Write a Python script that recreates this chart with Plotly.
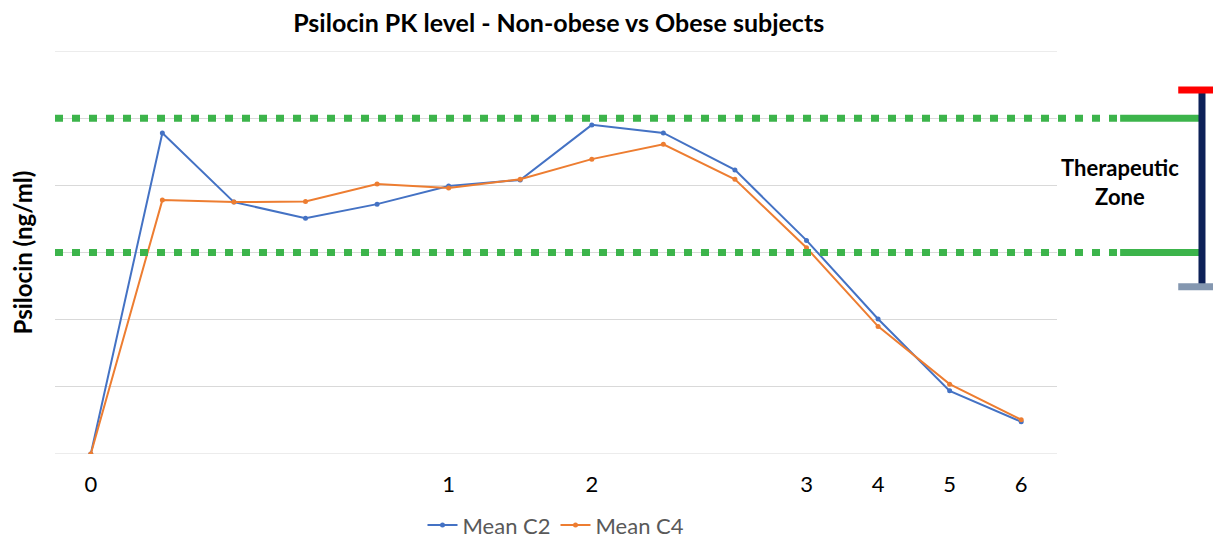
import plotly.graph_objects as go

# Time-point category labels (blank = unlabeled category)
time_labels = ["0", "", "", "", "", "1", "", "2", "", "", "3", "4", "5", "6"]
mean_c2 = [0.0, 4.78, 3.75, 3.51, 3.72, 3.99, 4.08, 4.90, 4.78, 4.23, 3.18, 2.01, 0.94, 0.48]
mean_c4 = [0.0, 3.78, 3.75, 3.76, 4.02, 3.96, 4.09, 4.39, 4.61, 4.09, 3.07, 1.90, 1.04, 0.51]
therapeutic_upper = 5.0
therapeutic_lower = 3.0
bar_top = 5.40
bar_bottom = 2.49
y_min, y_max = 0, 6

x_idx = list(range(len(time_labels)))
FONT = "Lato"

fig = go.Figure()
fig.add_trace(go.Scatter(x=x_idx, y=mean_c2, name="Mean C2", mode="lines+markers",
                         line=dict(color="#4472C4", width=2),
                         marker=dict(size=5, color="#4472C4")))
fig.add_trace(go.Scatter(x=x_idx, y=mean_c4, name="Mean C4", mode="lines+markers",
                         line=dict(color="#ED7D31", width=2),
                         marker=dict(size=5, color="#ED7D31")))

green = "#3CB44B"
for yv in (therapeutic_upper, therapeutic_lower):
    fig.add_shape(type="line", xref="paper", yref="y", x0=0, x1=1.063, y0=yv, y1=yv,
                  line=dict(color=green, width=7, dash="8px,9px"), layer="above")
    fig.add_shape(type="line", xref="paper", yref="y", x0=1.063, x1=1.145, y0=yv, y1=yv,
                  line=dict(color=green, width=7), layer="above")

fig.add_shape(type="line", xref="paper", yref="y", x0=1.1447, x1=1.1447, y0=bar_bottom, y1=bar_top,
              line=dict(color="#0D2158", width=7), layer="above")
fig.add_shape(type="line", xref="paper", yref="y", x0=1.121, x1=1.17, y0=bar_top + 0.02, y1=bar_top + 0.02,
              line=dict(color="#FF0000", width=7), layer="above")
fig.add_shape(type="line", xref="paper", yref="y", x0=1.121, x1=1.17, y0=bar_bottom, y1=bar_bottom,
              line=dict(color="#8497B0", width=7), layer="above")

fig.add_annotation(xref="paper", yref="y", x=1.0629, xanchor="center", yanchor="middle",
                   y=(therapeutic_upper + therapeutic_lower) / 2 + 0.05,
                   text="<b>Therapeutic<br>Zone</b>", showarrow=False,
                   font=dict(family=FONT, size=22, color="#000000"), align="center")

fig.update_layout(
    width=1213, height=531,
    margin=dict(l=47, r=164, t=43, b=85),
    paper_bgcolor="white", plot_bgcolor="white",
    title=dict(text="<b>Psilocin PK level - Non-obese vs Obese subjects</b>",
               x=0.454, xanchor="center", y=0.972, yanchor="middle",
               font=dict(family=FONT, size=25, color="#000000")),
    font=dict(family=FONT, color="#000000"),
    showlegend=True,
    legend=dict(orientation="h", x=0.5, xanchor="center", yref="container", y=0.026, yanchor="middle",
                font=dict(family=FONT, size=22, color="#595959"), itemwidth=30),
    xaxis=dict(tickmode="array", tickvals=x_idx, ticktext=time_labels, range=[-0.5, 13.5],
               showgrid=False, zeroline=False, showline=False, ticks="", automargin=False,
               ticklabelstandoff=15, tickfont=dict(family=FONT, size=22, color="#000000")),
    yaxis=dict(range=[y_min, y_max], dtick=1, showgrid=True, gridcolor="#D9D9D9", gridwidth=1,
               showticklabels=False, zeroline=False, ticks="", automargin=False,
               title=dict(text="<b>Psilocin (ng/ml)</b>", standoff=20,
                          font=dict(family=FONT, size=24, color="#000000"))),
)
for yv in (y_min, y_max):
    fig.add_shape(type="line", xref="paper", yref="y", x0=0, x1=1, y0=yv, y1=yv,
                  line=dict(color="#D9D9D9", width=1), layer="below")

fig.write_html("out.html")
